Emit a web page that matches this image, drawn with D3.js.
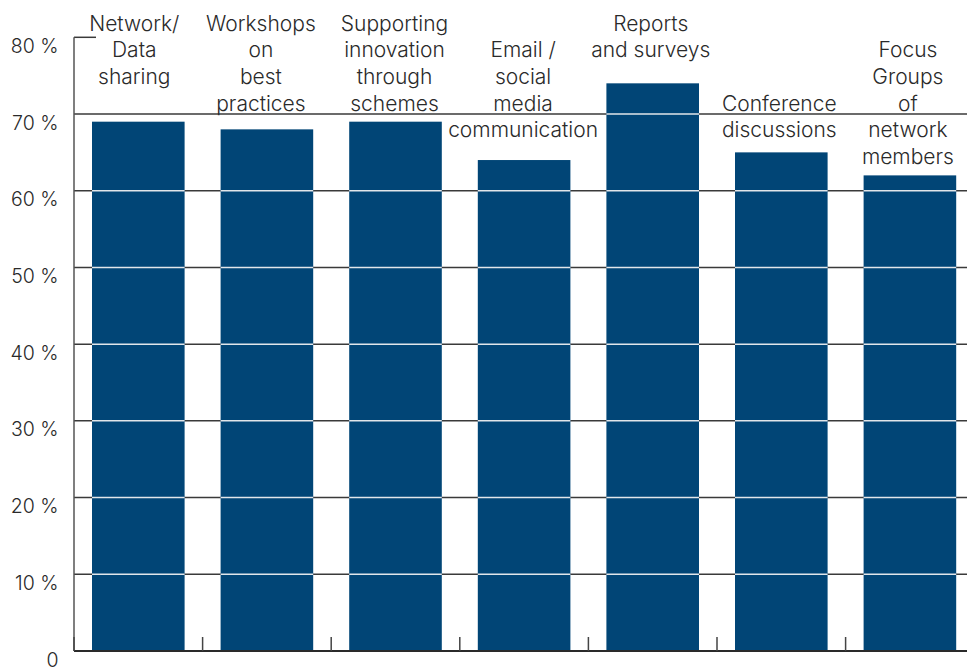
<!DOCTYPE html>
<html>
<head>
<meta charset="utf-8">
<script src="https://cdn.jsdelivr.net/npm/d3@7"></script>
<style>
  html, body { margin: 0; padding: 0; background: #fff; }
  svg { display: block; }
  text { font-family: Inter, "Noto Sans", sans-serif; font-weight: 300; fill: #2a2a2a; }
</style>
</head>
<body>
<svg id="chart" width="967" height="667"></svg>
<script>
// Share of respondents per communication channel (%)
const categories = [
  "Network/ Data sharing",
  "Workshops on best practices",
  "Supporting innovation through schemes",
  "Email / social media communication",
  "Reports and surveys",
  "Conference discussions",
  "Focus Groups of network members"
];
const categoryLines = [
  ["Network/", "Data", "sharing"],
  ["Workshops", "on", "best", "practices"],
  ["Supporting", "innovation", "through", "schemes"],
  ["Email /", "social", "media", "communication"],
  ["Reports", "and surveys"],
  ["Conference", "discussions"],
  ["Focus", "Groups", "of", "network", "members"]
];
const values = [69, 68, 69, 64, 74, 65, 62];
const yTicks = [0, 10, 20, 30, 40, 50, 60, 70, 80];
const yTickLabels = ["0", "10 %", "20 %", "30 %", "40 %", "50 %", "60 %", "70 %", "80 %"];

// Layout
const left = 74, step = 128.6, baseY = 651, topY = 37.3;
const labelFirstRow = [0, 0, 0, 1, 0, 3, 1];
const labelShift = [-4, -6, -1, -1, -2, -2, -2];
const rowBaseline0 = 30.5, rowStep = 26.7;

const svg = d3.select("#chart");

const x = d3.scaleBand()
  .domain(categories)
  .range([left, left + step * categories.length])
  .paddingInner(0.28)
  .paddingOuter(0.14);

const y = d3.scaleLinear().domain([0, 80]).range([baseY, topY]);

// Dark gridlines behind the bars
svg.append("g").selectAll("line")
  .data(yTicks.filter(t => t > 0 && t < 80))
  .join("line")
  .attr("x1", left).attr("x2", 967)
  .attr("y1", d => y(d)).attr("y2", d => y(d))
  .attr("stroke", "#3a3a3a").attr("stroke-width", 1.5);

// Short tick at the top of the axis
svg.append("line")
  .attr("x1", left).attr("x2", left + 22)
  .attr("y1", y(80)).attr("y2", y(80))
  .attr("stroke", "#3a3a3a").attr("stroke-width", 1.5);

// Bars
svg.append("g").selectAll("rect")
  .data(values)
  .join("rect")
  .attr("x", (d, i) => x(categories[i]))
  .attr("width", x.bandwidth())
  .attr("y", d => y(d))
  .attr("height", d => y(0) - y(d))
  .attr("fill", "#014576");

// Light gridlines across the bars
const overlay = svg.append("g");
values.forEach((v, i) => {
  overlay.selectAll(null)
    .data(yTicks.filter(t => t > 0 && t < v))
    .join("line")
    .attr("x1", x(categories[i])).attr("x2", x(categories[i]) + x.bandwidth())
    .attr("y1", d => y(d)).attr("y2", d => y(d))
    .attr("stroke", "#e2e6ea").attr("stroke-width", 1.5);
});

// Y axis line
svg.append("line")
  .attr("x1", left).attr("x2", left)
  .attr("y1", y(80)).attr("y2", baseY)
  .attr("stroke", "#555").attr("stroke-width", 1.5);

// Baseline
svg.append("line")
  .attr("x1", left).attr("x2", 967)
  .attr("y1", baseY).attr("y2", baseY)
  .attr("stroke", "#2a2a2a").attr("stroke-width", 2);

// Band boundary ticks along the baseline
const boundaries = categories.map(c => x(c) - x.step() * x.paddingInner() / 2);
svg.append("g").selectAll("line")
  .data(boundaries)
  .join("line")
  .attr("x1", d => d).attr("x2", d => d)
  .attr("y1", baseY - 14).attr("y2", baseY)
  .attr("stroke", "#444").attr("stroke-width", 1.5);

// Y tick labels
svg.append("g").selectAll("text")
  .data(yTicks)
  .join("text")
  .attr("x", 58.5)
  .attr("y", d => y(d) + 15.5)
  .attr("text-anchor", "end")
  .attr("font-size", 19.5)
  .text((d, i) => yTickLabels[i]);

// Category labels above the bars
const labels = svg.append("g");
categoryLines.forEach((lines, i) => {
  const cx = x(categories[i]) + x.bandwidth() / 2 + labelShift[i];
  labels.append("text")
    .attr("text-anchor", "middle")
    .attr("font-size", 21)
    .selectAll("tspan")
    .data(lines)
    .join("tspan")
    .attr("x", cx)
    .attr("y", (d, j) => rowBaseline0 + rowStep * (labelFirstRow[i] + j))
    .text(d => d);
});
</script>
</body>
</html>
